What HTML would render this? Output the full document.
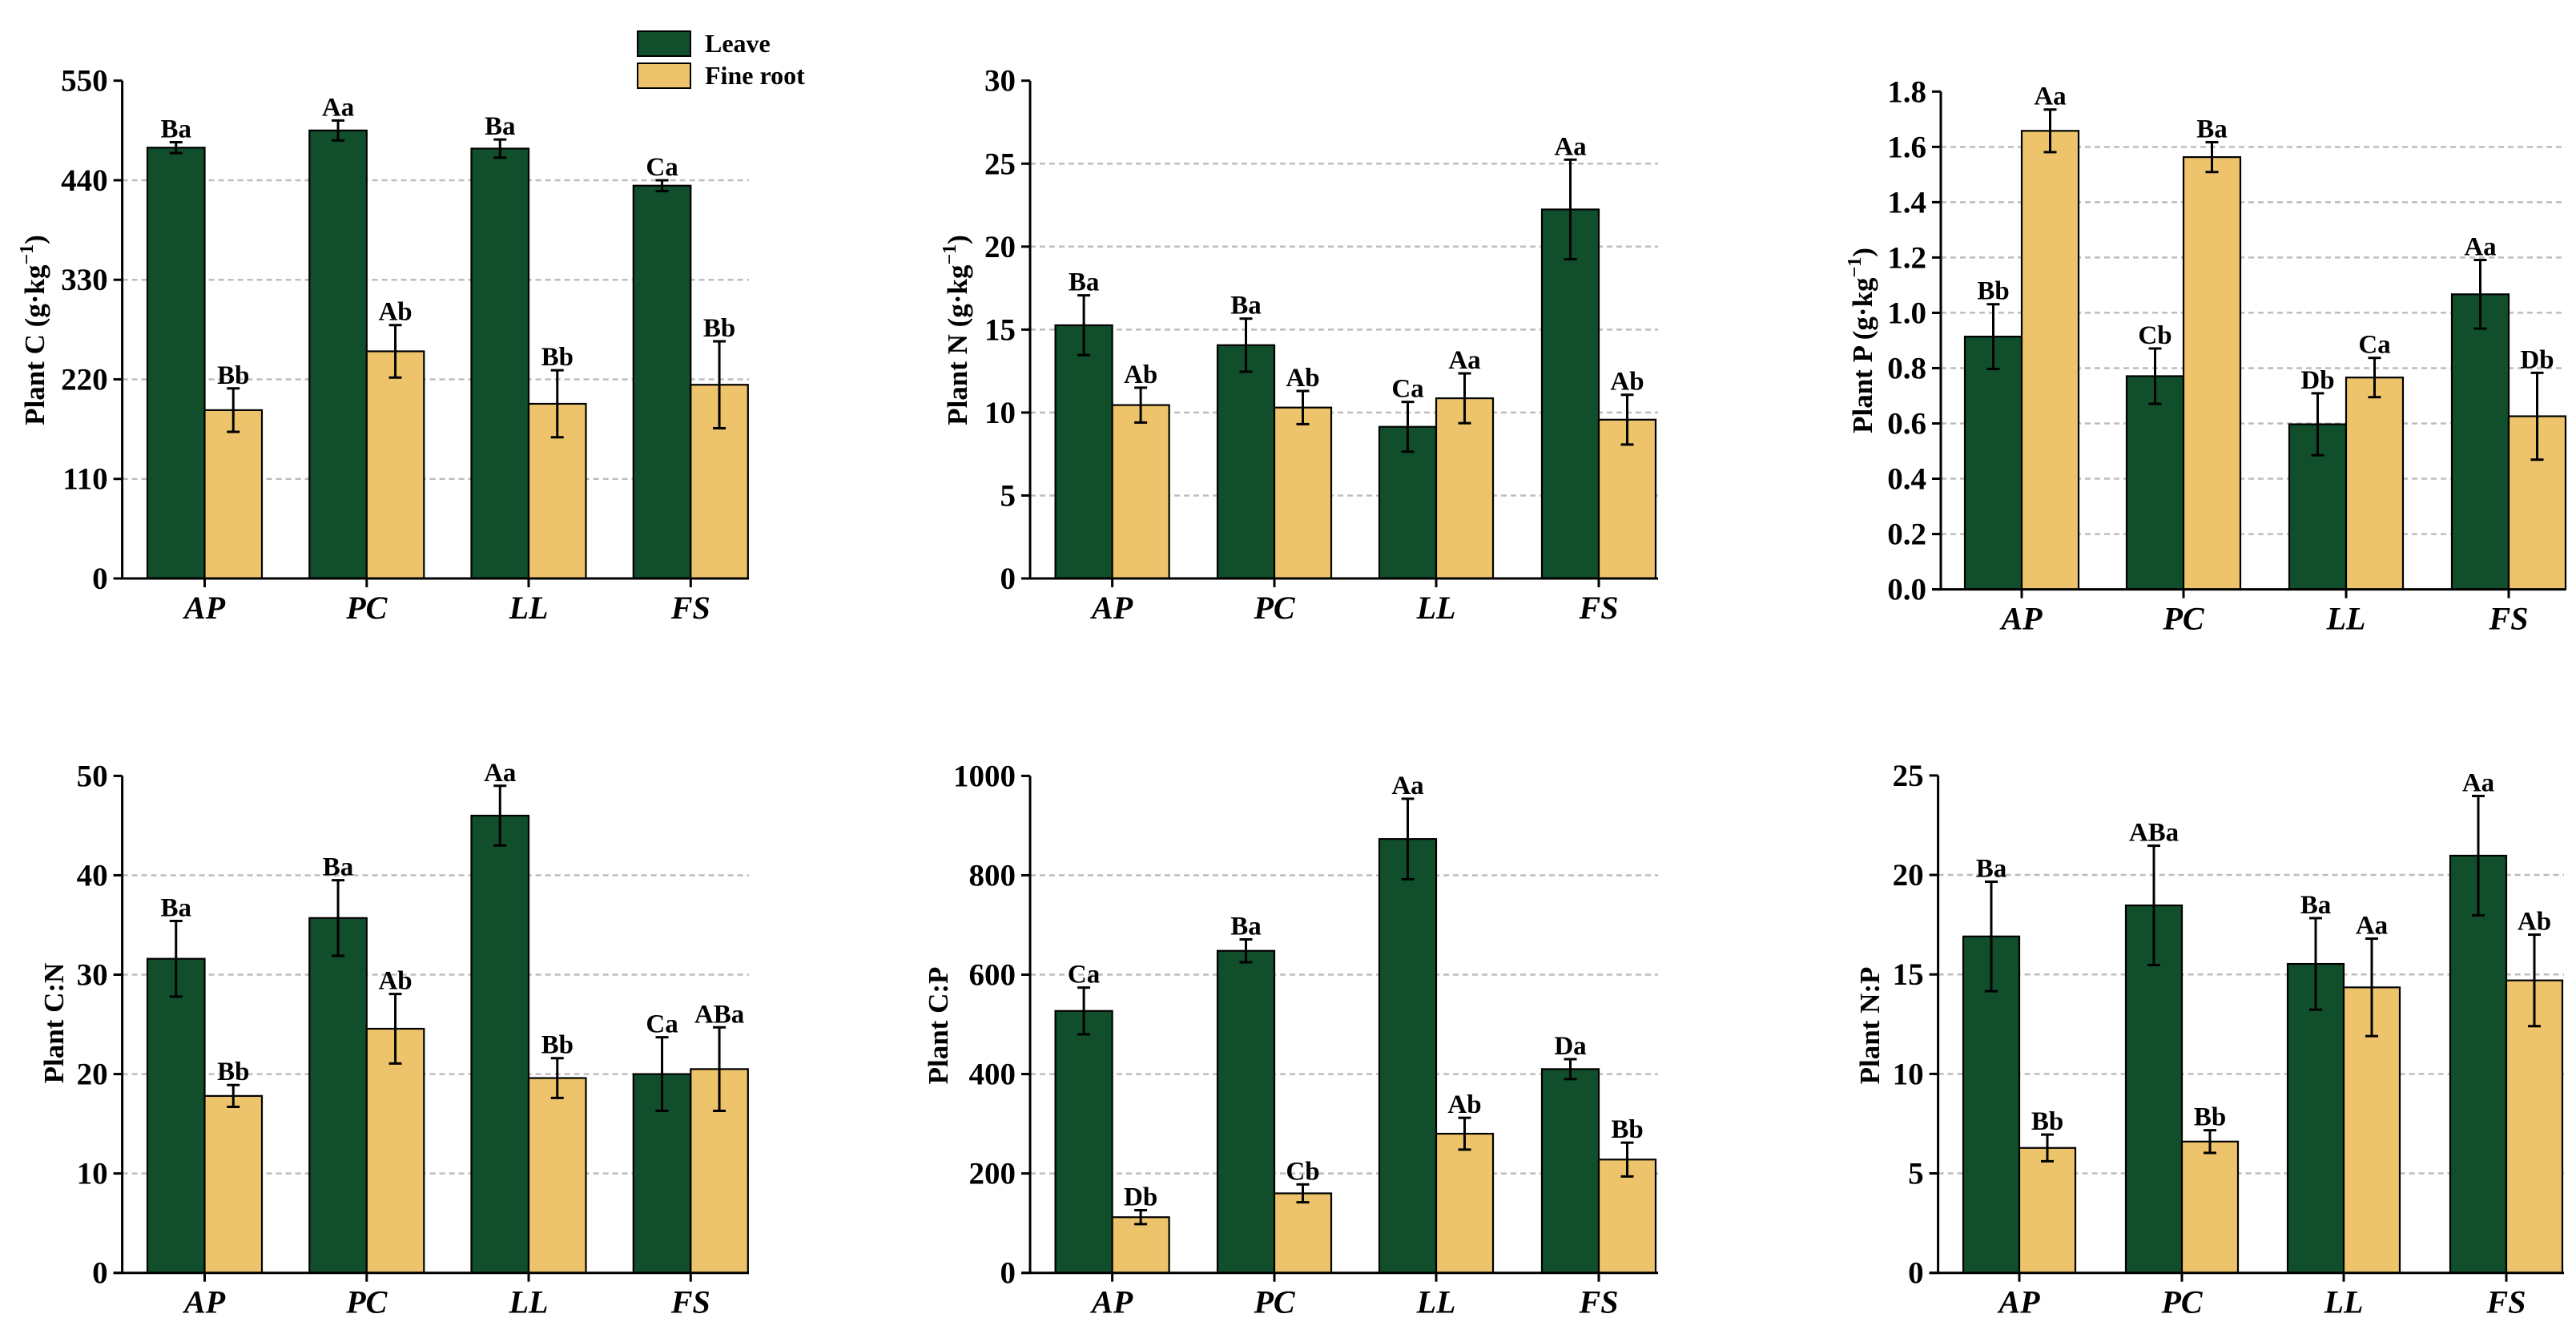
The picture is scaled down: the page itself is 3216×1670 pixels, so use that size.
<!DOCTYPE html>
<html><head><meta charset="utf-8"><style>
html,body{margin:0;padding:0;background:#fff;}
svg{display:block;}
svg text{font-family:"Liberation Serif","Times New Roman",serif;}
</style></head><body>
<svg id="fig" width="3216" height="1670" viewBox="0 0 3216 1670" xmlns="http://www.w3.org/2000/svg" font-family="Liberation Serif, serif">
<g>
<rect x="796" y="39" width="66" height="31" fill="#114e2b" stroke="#000" stroke-width="2"/>
<text x="880" y="65" font-family="Liberation Serif, serif" font-size="32" font-weight="bold">Leave</text>
<rect x="796" y="79" width="66" height="31" fill="#edc46b" stroke="#000" stroke-width="2"/>
<text x="880" y="105" font-family="Liberation Serif, serif" font-size="32" font-weight="bold">Fine root</text>
</g>
</svg>
<script>
const categories = ["AP","PC","LL","FS"];
// Plant C
const cLeave = [476, 495, 475, 434];
const cLeaveErr = [6, 11, 10, 6];
const cRoot = [186, 251, 193, 214];
const cRootErr = [24, 29, 37, 48];
const cLeaveSig = ["Ba","Aa","Ba","Ca"];
const cRootSig = ["Bb","Ab","Bb","Bb"];
const cTicks = ["0","110","220","330","440","550"];
// Plant N
const nLeave = [15.26, 14.06, 9.14, 22.24];
const nLeaveErr = [1.8, 1.6, 1.5, 3.0];
const nRoot = [10.45, 10.3, 10.86, 9.57];
const nRootErr = [1.05, 1.0, 1.5, 1.5];
const nLeaveSig = ["Ba","Ba","Ca","Aa"];
const nRootSig = ["Ab","Ab","Aa","Ab"];
const nTicks = ["0","5","10","15","20","25","30"];
// Plant P
const pLeave = [0.914, 0.771, 0.597, 1.067];
const pLeaveErr = [0.117, 0.1, 0.112, 0.124];
const pRoot = [1.658, 1.563, 0.766, 0.626];
const pRootErr = [0.077, 0.054, 0.071, 0.157];
const pLeaveSig = ["Bb","Cb","Db","Aa"];
const pRootSig = ["Aa","Ba","Ca","Db"];
const pTicks = ["0.0","0.2","0.4","0.6","0.8","1.0","1.2","1.4","1.6","1.8"];
// Plant C:N
const cnLeave = [31.6, 35.7, 46.0, 20.0];
const cnLeaveErr = [3.8, 3.8, 3.0, 3.7];
const cnRoot = [17.8, 24.56, 19.6, 20.5];
const cnRootErr = [1.1, 3.5, 2.0, 4.2];
const cnLeaveSig = ["Ba","Ba","Aa","Ca"];
const cnRootSig = ["Bb","Ab","Bb","ABa"];
const cnTicks = ["0","10","20","30","40","50"];
// Plant C:P
const cpLeave = [527, 648, 873, 410];
const cpLeaveErr = [47, 23, 81, 20];
const cpRoot = [112, 160, 280, 228];
const cpRootErr = [14, 18, 32, 34];
const cpLeaveSig = ["Ca","Ba","Aa","Da"];
const cpRootSig = ["Db","Cb","Ab","Bb"];
const cpTicks = ["0","200","400","600","800","1000"];
// Plant N:P
const npLeave = [16.91, 18.47, 15.53, 20.97];
const npLeaveErr = [2.75, 3.0, 2.3, 3.0];
const npRoot = [6.28, 6.6, 14.35, 14.7];
const npRootErr = [0.67, 0.57, 2.45, 2.3];
const npLeaveSig = ["Ba","ABa","Ba","Aa"];
const npRootSig = ["Bb","Bb","Aa","Ab"];
const npTicks = ["0","5","10","15","20","25"];

const NS = "http://www.w3.org/2000/svg";
const FONT = "Liberation Serif, serif";
const svg = document.getElementById('fig');
function mk(tag, attrs, parent){
  const e = document.createElementNS(NS, tag);
  for (const k in attrs) e.setAttribute(k, attrs[k]);
  parent.appendChild(e);
  return e;
}
function chart(cfg){
  const g = mk('g', {}, svg);
  
  
  const ticks = cfg.ticks;
  const tmax = parseFloat(ticks[ticks.length-1]);
  const y = v => cfg.zero - (v / tmax) * (cfg.zero - cfg.top);
  const half = cfg.bw;
  ticks.forEach((t, i) => {
    if (i === 0 || i === ticks.length-1) return;
    const gl = mk('line', {x1: cfg.ax, x2: cfg.right, y1: y(parseFloat(t)), y2: y(parseFloat(t)), stroke: '#bdbdbd', 'stroke-width': 2.5, 'stroke-dasharray': '7,5'}, g);
    
    
  });
  categories.forEach((c, i) => {
    const cx = cfg.centers[i];
    const series = [[cfg.leave, cfg.leaveErr, cfg.leaveSig, '#114e2b', cx - half, 'leave'], [cfg.root, cfg.rootErr, cfg.rootSig, '#edc46b', cx, 'fine-root']];
    series.forEach(s => {
      const v = s[0][i], e = s[1][i];
      const r = mk('rect', {x: s[4], y: y(v), width: half, height: cfg.zero - y(v), fill: s[3], stroke: '#000', 'stroke-width': 2.2}, g);
      
      
      const mx = s[4] + half/2;
      const eg = mk('g', {stroke: '#000', 'stroke-width': 3}, g);
      
      
      mk('line', {x1: mx, x2: mx, y1: y(v+e), y2: y(v-e)}, eg);
      mk('line', {x1: mx-8, x2: mx+8, y1: y(v+e), y2: y(v+e)}, eg);
      mk('line', {x1: mx-8, x2: mx+8, y1: y(v-e), y2: y(v-e)}, eg);
      const t = mk('text', {x: mx, y: y(v+e) - 6, 'text-anchor': 'middle', 'font-family': FONT, 'font-size': 33, 'font-weight': 'bold'}, g);
      t.textContent = s[2][i];
      
      
    });
  });
  const ax = mk('g', {stroke: '#000', 'stroke-width': 3}, g);
  
  
  mk('line', {x1: cfg.ax, x2: cfg.ax, y1: cfg.top, y2: cfg.zero}, ax);
  mk('line', {x1: cfg.ax - 11, x2: cfg.right, y1: cfg.zero, y2: cfg.zero}, ax);
  ticks.forEach(t => {
    const ty = y(parseFloat(t));
    mk('line', {x1: cfg.ax - 11, x2: cfg.ax, y1: ty, y2: ty}, ax);
    const tl = mk('text', {x: cfg.ax - 18, y: ty + 13, 'text-anchor': 'end', 'font-family': FONT, 'font-size': 39, 'font-weight': 'bold'}, g);
    tl.textContent = t;
    
    
  });
  categories.forEach((c, i) => {
    mk('line', {x1: cfg.centers[i], x2: cfg.centers[i], y1: cfg.zero, y2: cfg.zero + 11}, ax);
    const xl = mk('text', {x: cfg.centers[i], y: cfg.zero + 50, 'text-anchor': 'middle', 'font-family': FONT, 'font-size': 40, 'font-weight': 'bold', 'font-style': 'italic'}, g);
    xl.textContent = c;
    
    
  });
  const yl = mk('text', {x: 0, y: 0, 'text-anchor': 'middle', 'font-family': FONT, 'font-size': 35, 'font-weight': 'bold', transform: 'translate(' + (cfg.lx + 12) + ',' + cfg.ly + ') rotate(-90)'}, g);
  
  
  if (cfg.unit) {
    yl.appendChild(document.createTextNode(cfg.label + ' (g·kg'));
    const sup = mk('tspan', {dy: -14, 'font-size': 24}, yl);
    sup.textContent = '−1';
    const cl = mk('tspan', {dy: 14}, yl);
    cl.textContent = ')';
  } else {
    yl.textContent = cfg.label;
  }
}
const topCenters1 = [255.5, 457.8, 660, 862.3];
const c2 = [1388.6, 1591, 1793, 1996];
chart({name:'chart-plant-c', ticks:cTicks, leave:cLeave, leaveErr:cLeaveErr, root:cRoot, rootErr:cRootErr, leaveSig:cLeaveSig, rootSig:cRootSig, ax:152.6, top:100.7, zero:722, right:935, centers:topCenters1, bw:71.5, label:'Plant C', unit:true, lx:43, ly:412});
chart({name:'chart-plant-n', ticks:nTicks, leave:nLeave, leaveErr:nLeaveErr, root:nRoot, rootErr:nRootErr, leaveSig:nLeaveSig, rootSig:nRootSig, ax:1286, top:100.7, zero:722, right:2070, centers:c2, bw:71, label:'Plant N', unit:true, lx:1195, ly:412});
chart({name:'chart-plant-p', ticks:pTicks, leave:pLeave, leaveErr:pLeaveErr, root:pRoot, rootErr:pRootErr, leaveSig:pLeaveSig, rootSig:pRootSig, ax:2423, top:114.3, zero:735.6, right:3203, centers:[2524,2726,2929,3132], bw:71, label:'Plant P', unit:true, lx:2325, ly:425});
chart({name:'chart-plant-cn', ticks:cnTicks, leave:cnLeave, leaveErr:cnLeaveErr, root:cnRoot, rootErr:cnRootErr, leaveSig:cnLeaveSig, rootSig:cnRootSig, ax:152.6, top:968.4, zero:1588.7, right:935, centers:topCenters1, bw:71.5, label:'Plant C:N', unit:false, lx:67, ly:1277});
chart({name:'chart-plant-cp', ticks:cpTicks, leave:cpLeave, leaveErr:cpLeaveErr, root:cpRoot, rootErr:cpRootErr, leaveSig:cpLeaveSig, rootSig:cpRootSig, ax:1286, top:968.4, zero:1588.7, right:2070, centers:c2, bw:71, label:'Plant C:P', unit:false, lx:1171, ly:1280});
chart({name:'chart-plant-np', ticks:npTicks, leave:npLeave, leaveErr:npLeaveErr, root:npRoot, rootErr:npRootErr, leaveSig:npLeaveSig, rootSig:npRootSig, ax:2419.6, top:967.9, zero:1588.7, right:3201, centers:[2521,2724,2926,3129], bw:70, label:'Plant N:P', unit:false, lx:2334, ly:1280});
</script>
</body></html>
